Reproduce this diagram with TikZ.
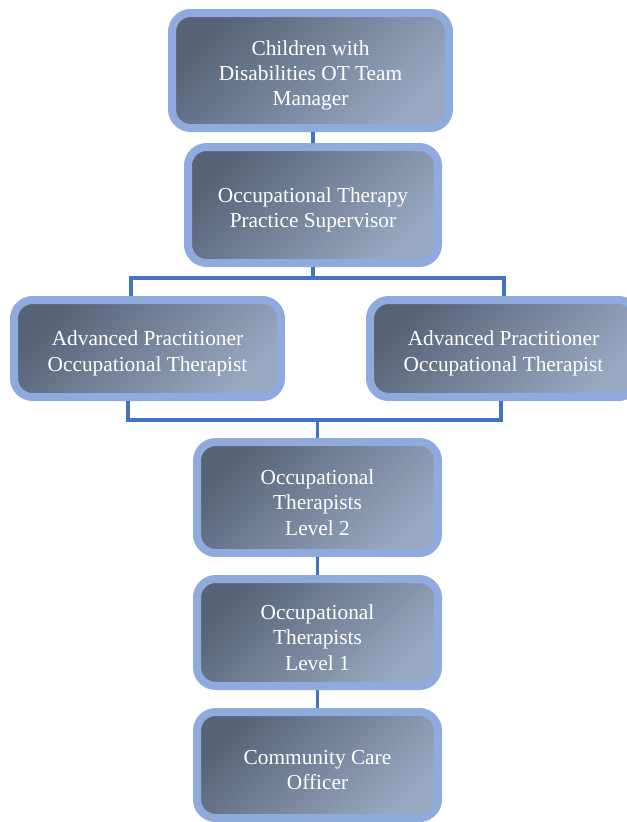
\documentclass[tikz,border=0pt]{standalone}
\usepackage{fontspec}
\setmainfont{Liberation Serif}
\usetikzlibrary{positioning}

\definecolor{rimblue}{HTML}{8FAADC}
\definecolor{linkblue}{HTML}{4472C4}
\definecolor{slatedark}{HTML}{576276}
\definecolor{slatelight}{HTML}{99A8C1}

\tikzset{
  post/.style={draw=rimblue,line width=6pt,rounded corners=14pt,
    top color=slatedark,bottom color=slatelight,shading angle=45,
    text=white,align=center,font=\fontsize{16}{19}\selectfont,
    inner sep=2pt,outer sep=3pt},
  twolines/.style={text height=37.5pt},
  threelines/.style={text height=56.5pt},
  link/.style={draw=linkblue,line width=2.3pt}
}

\begin{document}
\begin{tikzpicture}[x=0.75pt,y=-0.75pt]
\useasboundingbox (0,0) rectangle (627,822);
\begin{scope}
  \node[post,threelines,minimum width=207.75pt,minimum height=86.25pt] (mgr) at (310.5,70.5)
    {Children with\\Disabilities OT Team\\Manager};
  \node[post,twolines,minimum width=187.5pt,minimum height=87pt] (sup) at (313,205)
    {Occupational Therapy\\Practice Supervisor};
  \node[post,twolines,minimum width=200.25pt,minimum height=72.75pt] (apl) at (147.5,348.5)
    {Advanced Practitioner\\Occupational Therapist};
  \node[post,twolines,minimum width=200.25pt,minimum height=72.75pt] (apr) at (503.5,348.5)
    {Advanced Practitioner\\Occupational Therapist};
  \node[post,threelines,minimum width=180.75pt,minimum height=83.25pt] (lvl2) at (317.5,497.5)
    {Occupational\\Therapists\\Level 2};
  \node[post,threelines,minimum width=180.75pt,minimum height=80.25pt] (lvl1) at (317.5,632.5)
    {Occupational\\Therapists\\Level 1};
  \node[post,twolines,minimum width=180.75pt,minimum height=79.5pt] (cco) at (317.5,765)
    {Community Care\\Officer};
\end{scope}

  % brackets between the levels
  \coordinate (jl) at (131,278);
  \coordinate (jr) at (504,278);
  \coordinate (kl) at (128,420);
  \coordinate (kr) at (501,420);

  \draw[link] (mgr.south -| sup.north) -- (sup.north);
  \draw[link] (sup.south) -- (sup.south |- jl);
  \draw[link] (jl |- apl.north) -- (jl) -- (jr) -- (jr |- apr.north);
  \draw[link] (kl |- apl.south) -- (kl) -- (kr) -- (kr |- apr.south);
  \draw[link] (lvl2.north |- kl) -- (lvl2.north);
  \draw[link] (lvl2.south) -- (lvl1.north);
  \draw[link] (lvl1.south) -- (cco.north);

\end{tikzpicture}
\end{document}
